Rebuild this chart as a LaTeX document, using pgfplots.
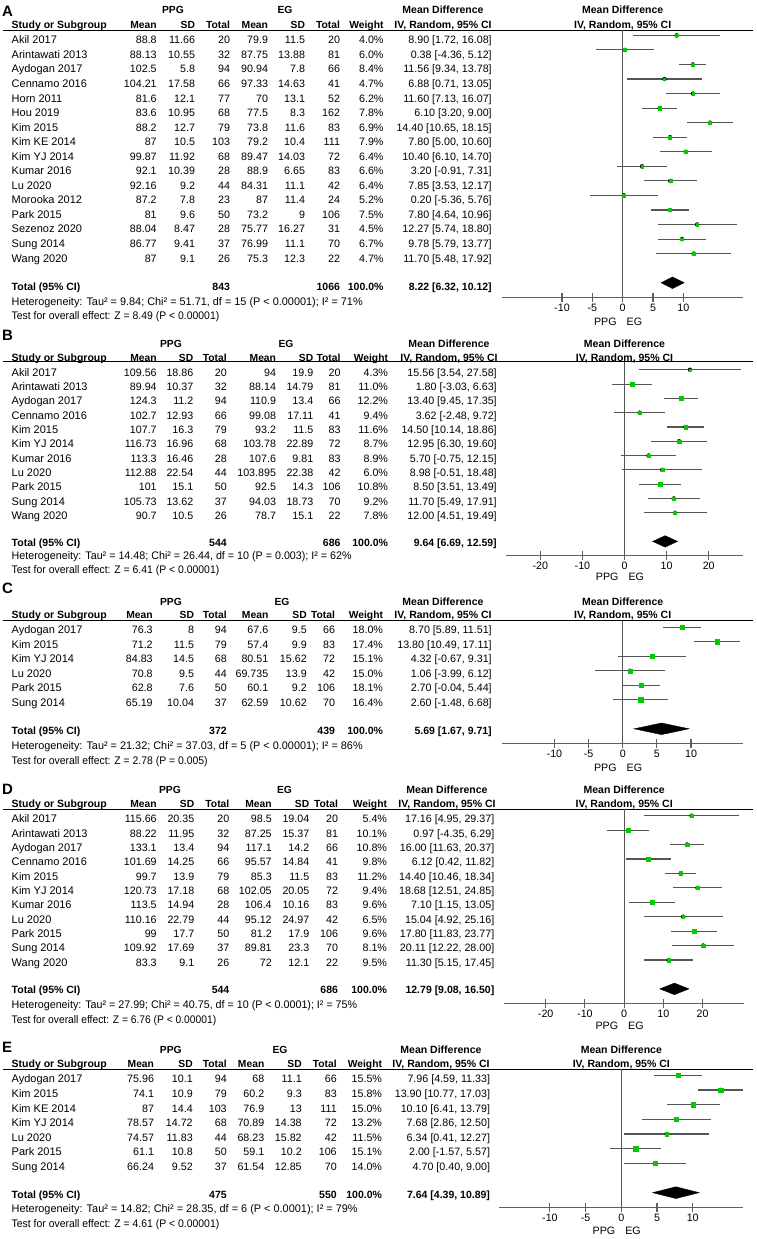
\documentclass[border=0pt]{standalone}
\usepackage{graphicx}
\usepackage{pgfplots}
\usepackage{pgfplotstable}
\pgfplotsset{compat=1.18}
\usepackage{fontspec}
\setmainfont{Liberation Sans}
\definecolor{sqgreen}{RGB}{0,204,0}
\definecolor{cigray}{RGB}{85,85,85}
\definecolor{axgray}{RGB}{95,95,95}

\newcommand\tf{\fontsize{11}{12}\selectfont}
\newcommand\tn{\fontsize{10.7}{12}\selectfont}
\newcommand\tb{\fontsize{10.5}{12}\selectfont\bfseries}
\newcommand\thd{\fontsize{10.3}{12}\selectfont\bfseries}
\newcommand\bs{3.8}
\newcommand\fw[2]{\resizebox{#1pt}{\height}{\tf #2}}

\newcommand\setcols[8]{\def\cA{#1}\def\cB{#2}\def\cC{#3}\def\cD{#4}\def\cE{#5}\def\cF{#6}\def\cG{#7}\def\cH{#8}}

\newcommand\trow[9]{%
  \node[anchor=base west] at (11.7,\ycur+\bs) {\tf #1};
  \node[anchor=base east] at (\cA,\ycur+\bs) {\tn #2};
  \node[anchor=base east] at (\cB,\ycur+\bs) {\tn #3};
  \node[anchor=base east] at (\cC,\ycur+\bs) {\tn #4};
  \node[anchor=base east] at (\cD,\ycur+\bs) {\tn #5};
  \node[anchor=base east] at (\cE,\ycur+\bs) {\tn #6};
  \node[anchor=base east] at (\cF,\ycur+\bs) {\tn #7};
  \node[anchor=base east] at (\cG,\ycur+\bs) {\tn #8};
  \node[anchor=base east] at (\cH,\ycur+\bs) {\tn #9};
  \pgfmathsetmacro\ycur{\ycur+\ystep}}

% letter, yletter, ygroup, xPPG, xEG, yheader, yline, xCIheader
\newcommand\phead[8]{%
  \node[anchor=base west] at (2,#2+5.4) {\fontsize{15}{16}\selectfont\bfseries #1};
  \node[anchor=base] at (#4,#3+\bs) {\thd PPG};
  \node[anchor=base] at (#5,#3+\bs) {\thd EG};
  \node[anchor=base] at (#8,#3+\bs) {\tb Mean Difference};
  \node[anchor=base] at (#8,#6+\bs) {\tb IV, Random, 95\% CI};
  \node[anchor=base west] at (11.7,#6+\bs) {\tb Study or Subgroup};
  \node[anchor=base east] at (\cA,#6+\bs) {\thd Mean};
  \node[anchor=base east] at (\cB,#6+\bs) {\thd SD};
  \node[anchor=base east] at (\cC,#6+\bs) {\thd Total};
  \node[anchor=base east] at (\cD,#6+\bs) {\thd Mean};
  \node[anchor=base east] at (\cE,#6+\bs) {\thd SD};
  \node[anchor=base east] at (\cF,#6+\bs) {\thd Total};
  \node[anchor=base east] at (\cG,#6+\bs) {\thd Weight};
  \draw[black, line width=0.9pt] (3,#7) -- (753,#7);}

% forest header: xzero, ygroup, yheader, yPPGEG
\newcommand\fhead[4]{%
  \node[anchor=base] at (#1,#2+\bs) {\tb Mean Difference};
  \node[anchor=base] at (#1,#3+\bs) {\tb IV, Random, 95\% CI};
  \node[anchor=base east] at (#1-6,#4+\bs) {\tn PPG};
  \node[anchor=base west] at (#1+4,#4+\bs) {\tn EG};}

% ytotal, n1, n2, ci, yhet, het, ytest, test
\newcommand\pfoot[8]{%
  \node[anchor=base west] at (11.7,#1+\bs) {\tb Total (95\% CI)};
  \node[anchor=base east] at (\cC,#1+\bs) {\tb #2};
  \node[anchor=base east] at (\cF,#1+\bs) {\tb #3};
  \node[anchor=base east] at (\cG,#1+\bs) {\tb 100.0\%};
  \node[anchor=base east] at (\cH,#1+\bs) {\tb #4};
  \node[anchor=base west] at (11.7,#5+\bs) {#6};
  \node[anchor=base west] at (11.7,#7+\bs) {#8};}

\pgfplotsset{
  forest/.style={
    anchor=south west, clip=false,
    axis x line=bottom, axis y line=none,
    x axis line style={-, draw=axgray, line width=1.1pt},
    tick align=center, major tick length=9pt,
    xtick style={draw=axgray, line width=1.1pt},
    ytick=\empty,
    xticklabel style={font=\tn, text=black, yshift=1.5pt},
  },
  ciline/.style={only marks, mark=none,
    error bars/.cd, x dir=both, x explicit, error mark=none,
    error bar style={cigray, line width=1.1pt}},
  squares/.style={scatter, only marks, mark=square*,
    mark options={line width=0.3pt},
    scatter/use mapped color={draw=sqgreen, fill=sqgreen},
    visualization depends on={sqrt(\thisrow{w}) \as \msz},
    scatter/@pre marker code/.append style={/tikz/mark size=0.55*\msz}},
  zeroline/.style={cigray, line width=1pt, mark=none},
  diamond/.style={draw=black, fill=black, mark=none},
}

\pgfplotstableread{
y md lo hi w
18 8.90 1.72 16.08 4.0
17 0.38 -4.36 5.12 6.0
16 11.56 9.34 13.78 8.4
15 6.88 0.71 13.05 4.7
14 11.60 7.13 16.07 6.2
13 6.10 3.20 9.00 7.8
12 14.40 10.65 18.15 6.9
11 7.80 5.00 10.60 7.9
10 10.40 6.10 14.70 6.4
9 3.20 -0.91 7.31 6.6
8 7.85 3.53 12.17 6.4
7 0.20 -5.36 5.76 5.2
6 7.80 4.64 10.96 7.5
5 12.27 5.74 18.80 4.5
4 9.78 5.79 13.77 6.7
3 11.70 5.48 17.92 4.7
}\tabA

\pgfplotstableread{
y md lo hi w
13 15.56 3.54 27.58 4.3
12 1.80 -3.03 6.63 11.0
11 13.40 9.45 17.35 12.2
10 3.62 -2.48 9.72 9.4
9 14.50 10.14 18.86 11.6
8 12.95 6.30 19.60 8.7
7 5.70 -0.75 12.15 8.9
6 8.98 -0.51 18.48 6.0
5 8.50 3.51 13.49 10.8
4 11.70 5.49 17.91 9.2
3 12.00 4.51 19.49 7.8
}\tabB

\pgfplotstableread{
y md lo hi w
8 8.70 5.89 11.51 18.0
7 13.80 10.49 17.11 17.4
6 4.32 -0.67 9.31 15.1
5 1.06 -3.99 6.12 15.0
4 2.70 -0.04 5.44 18.1
3 2.60 -1.48 6.68 16.4
}\tabC

\pgfplotstableread{
y md lo hi w
13 17.16 4.95 29.37 5.4
12 0.97 -4.35 6.29 10.1
11 16.00 11.63 20.37 10.8
10 6.12 0.42 11.82 9.8
9 14.40 10.46 18.34 11.2
8 18.68 12.51 24.85 9.4
7 7.10 1.15 13.05 9.6
6 15.04 4.92 25.16 6.5
5 17.80 11.83 23.77 9.6
4 20.11 12.22 28.00 8.1
3 11.30 5.15 17.45 9.5
}\tabD

\pgfplotstableread{
y md lo hi w
9 7.96 4.59 11.33 15.5
8 13.90 10.77 17.03 15.8
7 10.10 6.41 13.79 15.0
6 7.68 2.86 12.50 13.2
5 6.34 0.41 12.27 11.5
4 2.00 -1.57 5.57 15.1
3 4.70 0.40 9.00 14.0
}\tabE

\begin{document}
\begin{tikzpicture}
\useasboundingbox (0pt,0pt) rectangle (756pt,-1239pt);

\begin{scope}[x=1pt, y=-1pt, every node/.style={inner sep=0pt, outer sep=0pt}]
% ---------------- Panel A
\setcols{156.7}{195}{230}{268}{305}{340}{383.5}{491.7}
\phead{A}{10.7}{9.5}{173}{285}{25}{30.5}{443}
\fhead{622.7}{9.5}{25}{321.7}
\def\ycur{40}\def\ystep{14.55}
\trow{Akil 2017}{88.8}{11.66}{20}{79.9}{11.5}{20}{4.0\%}{8.90 [1.72, 16.08]}
\trow{Arintawati 2013}{88.13}{10.55}{32}{87.75}{13.88}{81}{6.0\%}{0.38 [-4.36, 5.12]}
\trow{Aydogan 2017}{102.5}{5.8}{94}{90.94}{7.8}{66}{8.4\%}{11.56 [9.34, 13.78]}
\trow{Cennamo 2016}{104.21}{17.58}{66}{97.33}{14.63}{41}{4.7\%}{6.88 [0.71, 13.05]}
\trow{Horn 2011}{81.6}{12.1}{77}{70}{13.1}{52}{6.2\%}{11.60 [7.13, 16.07]}
\trow{Hou 2019}{83.6}{10.95}{68}{77.5}{8.3}{162}{7.8\%}{6.10 [3.20, 9.00]}
\trow{Kim 2015}{88.2}{12.7}{79}{73.8}{11.6}{83}{6.9\%}{14.40 [10.65, 18.15]}
\trow{Kim KE 2014}{87}{10.5}{103}{79.2}{10.4}{111}{7.9\%}{7.80 [5.00, 10.60]}
\trow{Kim YJ 2014}{99.87}{11.92}{68}{89.47}{14.03}{72}{6.4\%}{10.40 [6.10, 14.70]}
\trow{Kumar 2016}{92.1}{10.39}{28}{88.9}{6.65}{83}{6.6\%}{3.20 [-0.91, 7.31]}
\trow{Lu 2020}{92.16}{9.2}{44}{84.31}{11.1}{42}{6.4\%}{7.85 [3.53, 12.17]}
\trow{Morooka 2012}{87.2}{7.8}{23}{87}{11.4}{24}{5.2\%}{0.20 [-5.36, 5.76]}
\trow{Park 2015}{81}{9.6}{50}{73.2}{9}{106}{7.5\%}{7.80 [4.64, 10.96]}
\trow{Sezenoz 2020}{88.04}{8.47}{28}{75.77}{16.27}{31}{4.5\%}{12.27 [5.74, 18.80]}
\trow{Sung 2014}{86.77}{9.41}{37}{76.99}{11.1}{70}{6.7\%}{9.78 [5.79, 13.77]}
\trow{Wang 2020}{87}{9.1}{26}{75.3}{12.3}{22}{4.7\%}{11.70 [5.48, 17.92]}
\pfoot{286.6}{843}{1066}{8.22 [6.32, 10.12]}{301.5}{\fw{351}{Heterogeneity: Tau² = 9.84; Chi² = 51.71, df = 15 (P < 0.00001); I² = 71\%}}{315.7}{\fw{207.6}{Test for overall effect: Z = 8.49 (P < 0.00001)}}

% ---------------- Panel B
\setcols{156.7}{193.3}{226.7}{276}{313.3}{340.5}{388}{496.7}
\phead{B}{335}{343.3}{171}{286}{357.3}{361.7}{449}
\fhead{624.5}{343.3}{357.3}{577}
\def\ycur{372.3}\def\ystep{14.34}
\trow{Akil 2017}{109.56}{18.86}{20}{94}{19.9}{20}{4.3\%}{15.56 [3.54, 27.58]}
\trow{Arintawati 2013}{89.94}{10.37}{32}{88.14}{14.79}{81}{11.0\%}{1.80 [-3.03, 6.63]}
\trow{Aydogan 2017}{124.3}{11.2}{94}{110.9}{13.4}{66}{12.2\%}{13.40 [9.45, 17.35]}
\trow{Cennamo 2016}{102.7}{12.93}{66}{99.08}{17.11}{41}{9.4\%}{3.62 [-2.48, 9.72]}
\trow{Kim 2015}{107.7}{16.3}{79}{93.2}{11.5}{83}{11.6\%}{14.50 [10.14, 18.86]}
\trow{Kim YJ 2014}{116.73}{16.96}{68}{103.78}{22.89}{72}{8.7\%}{12.95 [6.30, 19.60]}
\trow{Kumar 2016}{113.3}{16.46}{28}{107.6}{9.81}{83}{8.9\%}{5.70 [-0.75, 12.15]}
\trow{Lu 2020}{112.88}{22.54}{44}{103.895}{22.38}{42}{6.0\%}{8.98 [-0.51, 18.48]}
\trow{Park 2015}{101}{15.1}{50}{92.5}{14.3}{106}{10.8\%}{8.50 [3.51, 13.49]}
\trow{Sung 2014}{105.73}{13.62}{37}{94.03}{18.73}{70}{9.2\%}{11.70 [5.49, 17.91]}
\trow{Wang 2020}{90.7}{10.5}{26}{78.7}{15.1}{22}{7.8\%}{12.00 [4.51, 19.49]}
\pfoot{542.3}{544}{686}{9.64 [6.69, 12.59]}{555.7}{\fw{340}{Heterogeneity: Tau² = 14.48; Chi² = 26.44, df = 10 (P = 0.003); I² = 62\%}}{570}{\fw{207.6}{Test for overall effect: Z = 6.41 (P < 0.00001)}}

% ---------------- Panel C
\setcols{152.7}{194}{226.7}{268.3}{306.7}{335}{383}{491.7}
\phead{C}{588.3}{601.7}{171}{282}{614.3}{620}{443}
\fhead{622.7}{601.7}{614.3}{767.5}
\def\ycur{630}\def\ystep{14.47}
\trow{Aydogan 2017}{76.3}{8}{94}{67.6}{9.5}{66}{18.0\%}{8.70 [5.89, 11.51]}
\trow{Kim 2015}{71.2}{11.5}{79}{57.4}{9.9}{83}{17.4\%}{13.80 [10.49, 17.11]}
\trow{Kim YJ 2014}{84.83}{14.5}{68}{80.51}{15.62}{72}{15.1\%}{4.32 [-0.67, 9.31]}
\trow{Lu 2020}{70.8}{9.5}{44}{69.735}{13.9}{42}{15.0\%}{1.06 [-3.99, 6.12]}
\trow{Park 2015}{62.8}{7.6}{50}{60.1}{9.2}{106}{18.1\%}{2.70 [-0.04, 5.44]}
\trow{Sung 2014}{65.19}{10.04}{37}{62.59}{10.62}{70}{16.4\%}{2.60 [-1.48, 6.68]}
\pfoot{730.7}{372}{439}{5.69 [1.67, 9.71]}{745.5}{\fw{351}{Heterogeneity: Tau² = 21.32; Chi² = 37.03, df = 5 (P < 0.00001); I² = 86\%}}{760.5}{\fw{196}{Test for overall effect: Z = 2.78 (P = 0.005)}}

% ---------------- Panel D
\setcols{156.7}{194.3}{229.3}{271.7}{309.3}{338}{387}{494.3}
\phead{D}{789.3}{789.3}{170}{284.5}{803.3}{809.2}{447}
\fhead{624.2}{789.3}{803.3}{1026}
\def\ycur{819}\def\ystep{14.33}
\trow{Akil 2017}{115.66}{20.35}{20}{98.5}{19.04}{20}{5.4\%}{17.16 [4.95, 29.37]}
\trow{Arintawati 2013}{88.22}{11.95}{32}{87.25}{15.37}{81}{10.1\%}{0.97 [-4.35, 6.29]}
\trow{Aydogan 2017}{133.1}{13.4}{94}{117.1}{14.2}{66}{10.8\%}{16.00 [11.63, 20.37]}
\trow{Cennamo 2016}{101.69}{14.25}{66}{95.57}{14.84}{41}{9.8\%}{6.12 [0.42, 11.82]}
\trow{Kim 2015}{99.7}{13.9}{79}{85.3}{11.5}{83}{11.2\%}{14.40 [10.46, 18.34]}
\trow{Kim YJ 2014}{120.73}{17.18}{68}{102.05}{20.05}{72}{9.4\%}{18.68 [12.51, 24.85]}
\trow{Kumar 2016}{113.5}{14.94}{28}{106.4}{10.16}{83}{9.6\%}{7.10 [1.15, 13.05]}
\trow{Lu 2020}{110.16}{22.79}{44}{95.12}{24.97}{42}{6.5\%}{15.04 [4.92, 25.16]}
\trow{Park 2015}{99}{17.7}{50}{81.2}{17.9}{106}{9.6\%}{17.80 [11.83, 23.77]}
\trow{Sung 2014}{109.92}{17.69}{37}{89.81}{23.3}{70}{8.1\%}{20.11 [12.22, 28.00]}
\trow{Wang 2020}{83.3}{9.1}{26}{72}{12.1}{22}{9.5\%}{11.30 [5.15, 17.45]}
\pfoot{990}{544}{686}{12.79 [9.08, 16.50]}{1004.3}{\fw{345.5}{Heterogeneity: Tau² = 27.99; Chi² = 40.75, df = 10 (P < 0.0001); I² = 75\%}}{1019.3}{\fw{204.5}{Test for overall effect: Z = 6.76 (P < 0.00001)}}

% ---------------- Panel E
\setcols{154}{192.7}{226.7}{264.3}{301.7}{336.7}{382}{490}
\phead{E}{1047.3}{1049.3}{170.8}{280}{1063.3}{1069}{441}
\fhead{621.3}{1049.3}{1063.3}{1230.7}
\def\ycur{1079}\def\ystep{14.6}
\trow{Aydogan 2017}{75.96}{10.1}{94}{68}{11.1}{66}{15.5\%}{7.96 [4.59, 11.33]}
\trow{Kim 2015}{74.1}{10.9}{79}{60.2}{9.3}{83}{15.8\%}{13.90 [10.77, 17.03]}
\trow{Kim KE 2014}{87}{14.4}{103}{76.9}{13}{111}{15.0\%}{10.10 [6.41, 13.79]}
\trow{Kim YJ 2014}{78.57}{14.72}{68}{70.89}{14.38}{72}{13.2\%}{7.68 [2.86, 12.50]}
\trow{Lu 2020}{74.57}{11.83}{44}{68.23}{15.82}{42}{11.5\%}{6.34 [0.41, 12.27]}
\trow{Park 2015}{61.1}{10.8}{50}{59.1}{10.2}{106}{15.1\%}{2.00 [-1.57, 5.57]}
\trow{Sung 2014}{66.24}{9.52}{37}{61.54}{12.85}{70}{14.0\%}{4.70 [0.40, 9.00]}
\pfoot{1194.3}{475}{550}{7.64 [4.39, 10.89]}{1209}{\fw{346}{Heterogeneity: Tau² = 14.82; Chi² = 28.35, df = 6 (P < 0.0001); I² = 79\%}}{1223.3}{\fw{207.6}{Test for overall effect: Z = 4.61 (P < 0.00001)}}
\end{scope}

% ================= forest axes
\begin{axis}[forest, at={(502pt,-297.3pt)}, x=6.07pt, y=14.55pt,
  xmin=-19.88, xmax=19.9, ymin=0, ymax=18.34,
  xtick={-10,-5,0,5,10}, xticklabels={-10,-5,0,5,10}]
\addplot[zeroline] coordinates {(0,0) (0,18.34)};
\addplot[ciline] table[x=md, y=y, x error plus expr=\thisrow{hi}-\thisrow{md}, x error minus expr=\thisrow{md}-\thisrow{lo}] {\tabA};
\addplot[squares] table[x=md, y=y] {\tabA};
\addplot[diamond] coordinates {(6.32,1) (8.22,1.4) (10.12,1) (8.22,0.6)} -- cycle;
\end{axis}

\begin{axis}[forest, at={(506pt,-555.7pt)}, x=4.21pt, y=14.3pt,
  xmin=-28.15, xmax=28.2, ymin=0, ymax=13.57,
  xtick={-20,-10,0,10,20}, xticklabels={-20,-10,0,10,20}]
\addplot[zeroline] coordinates {(0,0) (0,13.57)};
\addplot[ciline] table[x=md, y=y, x error plus expr=\thisrow{hi}-\thisrow{md}, x error minus expr=\thisrow{md}-\thisrow{lo}] {\tabB};
\addplot[squares] table[x=md, y=y] {\tabB};
\addplot[diamond] coordinates {(6.69,1) (9.64,1.4) (12.59,1) (9.64,0.6)} -- cycle;
\end{axis}

\begin{axis}[forest, at={(501.7pt,-743.3pt)}, x=6.83pt, y=14.5pt,
  xmin=-17.72, xmax=17.66, ymin=0, ymax=8.46,
  xtick={-10,-5,0,5,10}, xticklabels={-10,-5,0,5,10}]
\addplot[zeroline] coordinates {(0,0) (0,8.46)};
\addplot[ciline] table[x=md, y=y, x error plus expr=\thisrow{hi}-\thisrow{md}, x error minus expr=\thisrow{md}-\thisrow{lo}] {\tabC};
\addplot[squares] table[x=md, y=y] {\tabC};
\addplot[diamond] coordinates {(1.67,1) (5.69,1.4) (9.71,1) (5.69,0.6)} -- cycle;
\end{axis}

\begin{axis}[forest, at={(504pt,-1003.3pt)}, x=3.925pt, y=14.43pt,
  xmin=-30.62, xmax=30.52, ymin=0, ymax=13.44,
  xtick={-20,-10,0,10,20}, xticklabels={-20,-10,0,10,20}]
\addplot[zeroline] coordinates {(0,0) (0,13.44)};
\addplot[ciline] table[x=md, y=y, x error plus expr=\thisrow{hi}-\thisrow{md}, x error minus expr=\thisrow{md}-\thisrow{lo}] {\tabD};
\addplot[squares] table[x=md, y=y] {\tabD};
\addplot[diamond] coordinates {(9.08,1) (12.79,1.4) (16.50,1) (12.79,0.6)} -- cycle;
\end{axis}

\begin{axis}[forest, at={(499.3pt,-1207.3pt)}, x=7.14pt, y=14.67pt,
  xmin=-17.09, xmax=17.09, ymin=0, ymax=9.43,
  xtick={-10,-5,0,5,10}, xticklabels={-10,-5,0,5,10}]
\addplot[zeroline] coordinates {(0,0) (0,9.43)};
\addplot[ciline] table[x=md, y=y, x error plus expr=\thisrow{hi}-\thisrow{md}, x error minus expr=\thisrow{md}-\thisrow{lo}] {\tabE};
\addplot[squares] table[x=md, y=y] {\tabE};
\addplot[diamond] coordinates {(4.39,1) (7.64,1.4) (10.89,1) (7.64,0.6)} -- cycle;
\end{axis}
\end{tikzpicture}
\end{document}
